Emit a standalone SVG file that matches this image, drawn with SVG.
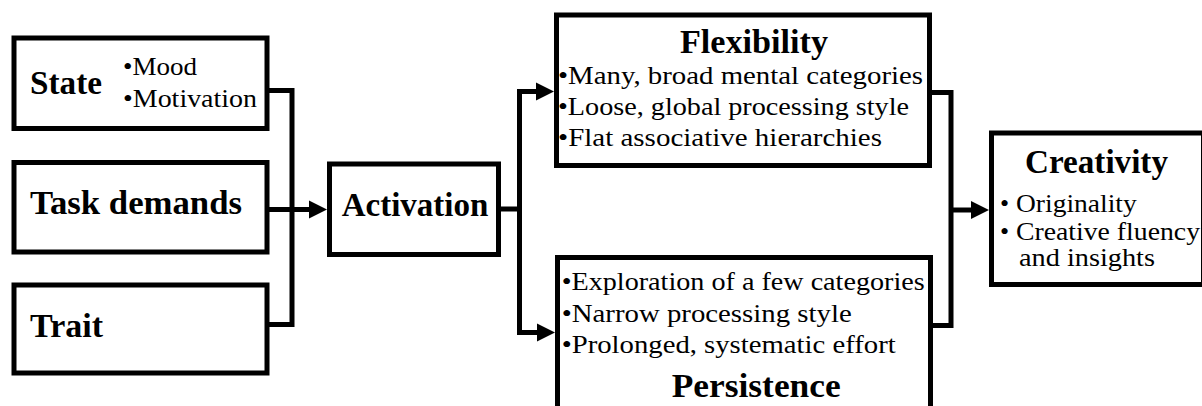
<svg xmlns="http://www.w3.org/2000/svg" width="1202" height="406" viewBox="0 0 1202 406">
<style>
.box{fill:#fff;stroke:#000;stroke-width:5}
.ln{fill:none;stroke:#000;stroke-width:5;stroke-linejoin:miter}
.b{font-family:"Liberation Serif",serif;font-weight:bold;font-size:33px;fill:#000}
.r{font-family:"Liberation Serif",serif;font-size:26px;fill:#000}
</style>
<defs>
<marker id="ah" markerUnits="userSpaceOnUse" markerWidth="19" markerHeight="19" refX="0" refY="9" orient="auto" overflow="visible">
<path d="M0,0 L18,9 L0,18 Z" fill="#000"/>
</marker>
</defs>
<rect width="1202" height="406" fill="#fff"/>
<g id="connectors">
<path class="ln" d="M267,90.5 H292 V324.5 H267"/>
<path class="ln" d="M267,209.5 H309" marker-end="url(#ah)"/>
<path class="ln" d="M498.5,209 H519.5"/>
<path class="ln" d="M519.5,91.5 V332.5"/>
<path class="ln" d="M517,91.5 H536" marker-end="url(#ah)"/>
<path class="ln" d="M517,332.5 H537" marker-end="url(#ah)"/>
<path class="ln" d="M929.5,92.5 H951 V325.5 H930.5"/>
<path class="ln" d="M951,210 H971" marker-end="url(#ah)"/>
</g>
<g id="state">
<rect class="box" x="14" y="38" width="253" height="90.5"/>
<text class="b" x="30" y="94.3" textLength="72" lengthAdjust="spacingAndGlyphs">State</text>
<text class="r" x="123" y="75" textLength="74" lengthAdjust="spacingAndGlyphs">•Mood</text>
<text class="r" x="123" y="106.7" textLength="134" lengthAdjust="spacingAndGlyphs">•Motivation</text>
</g>
<g id="task">
<rect class="box" x="14" y="162.5" width="253" height="89.5"/>
<text class="b" x="30" y="214.3" textLength="212" lengthAdjust="spacingAndGlyphs">Task demands</text>
</g>
<g id="trait">
<rect class="box" x="14" y="285" width="253" height="88"/>
<text class="b" x="30" y="336.7" textLength="73" lengthAdjust="spacingAndGlyphs">Trait</text>
</g>
<g id="activation">
<rect class="box" x="329.5" y="164" width="169" height="90.5"/>
<text class="b" x="341.7" y="216" textLength="146.7" lengthAdjust="spacingAndGlyphs">Activation</text>
</g>
<g id="flexibility">
<rect class="box" x="556.5" y="15" width="373" height="150.5"/>
<text class="b" x="680" y="53.3" textLength="148" lengthAdjust="spacingAndGlyphs">Flexibility</text>
<text class="r" x="558" y="84" textLength="365" lengthAdjust="spacingAndGlyphs">•Many, broad mental categories</text>
<text class="r" x="558" y="115" textLength="351" lengthAdjust="spacingAndGlyphs">•Loose, global processing style</text>
<text class="r" x="558" y="146" textLength="324" lengthAdjust="spacingAndGlyphs">•Flat associative hierarchies</text>
</g>
<g id="persistence">
<rect class="box" x="557.5" y="257.5" width="373" height="151"/>
<text class="r" x="561.7" y="290" textLength="363" lengthAdjust="spacingAndGlyphs">•Exploration of a few categories</text>
<text class="r" x="561.7" y="321.5" textLength="290" lengthAdjust="spacingAndGlyphs">•Narrow processing style</text>
<text class="r" x="561.7" y="353" textLength="334" lengthAdjust="spacingAndGlyphs">•Prolonged, systematic effort</text>
<text class="b" x="671.7" y="396.7" textLength="169" lengthAdjust="spacingAndGlyphs">Persistence</text>
</g>
<g id="creativity">
<rect class="box" x="991.5" y="133" width="212" height="151.5"/>
<text class="b" x="1025" y="173.3" textLength="143" lengthAdjust="spacingAndGlyphs">Creativity</text>
<text class="r" x="1000" y="212">•</text>
<text class="r" x="1016" y="212" textLength="120.7" lengthAdjust="spacingAndGlyphs">Originality</text>
<text class="r" x="1000" y="239.5">•</text>
<text class="r" x="1016" y="239.5" textLength="184" lengthAdjust="spacingAndGlyphs">Creative fluency</text>
<text class="r" x="1019" y="266" textLength="136" lengthAdjust="spacingAndGlyphs">and insights</text>
</g>
</svg>
